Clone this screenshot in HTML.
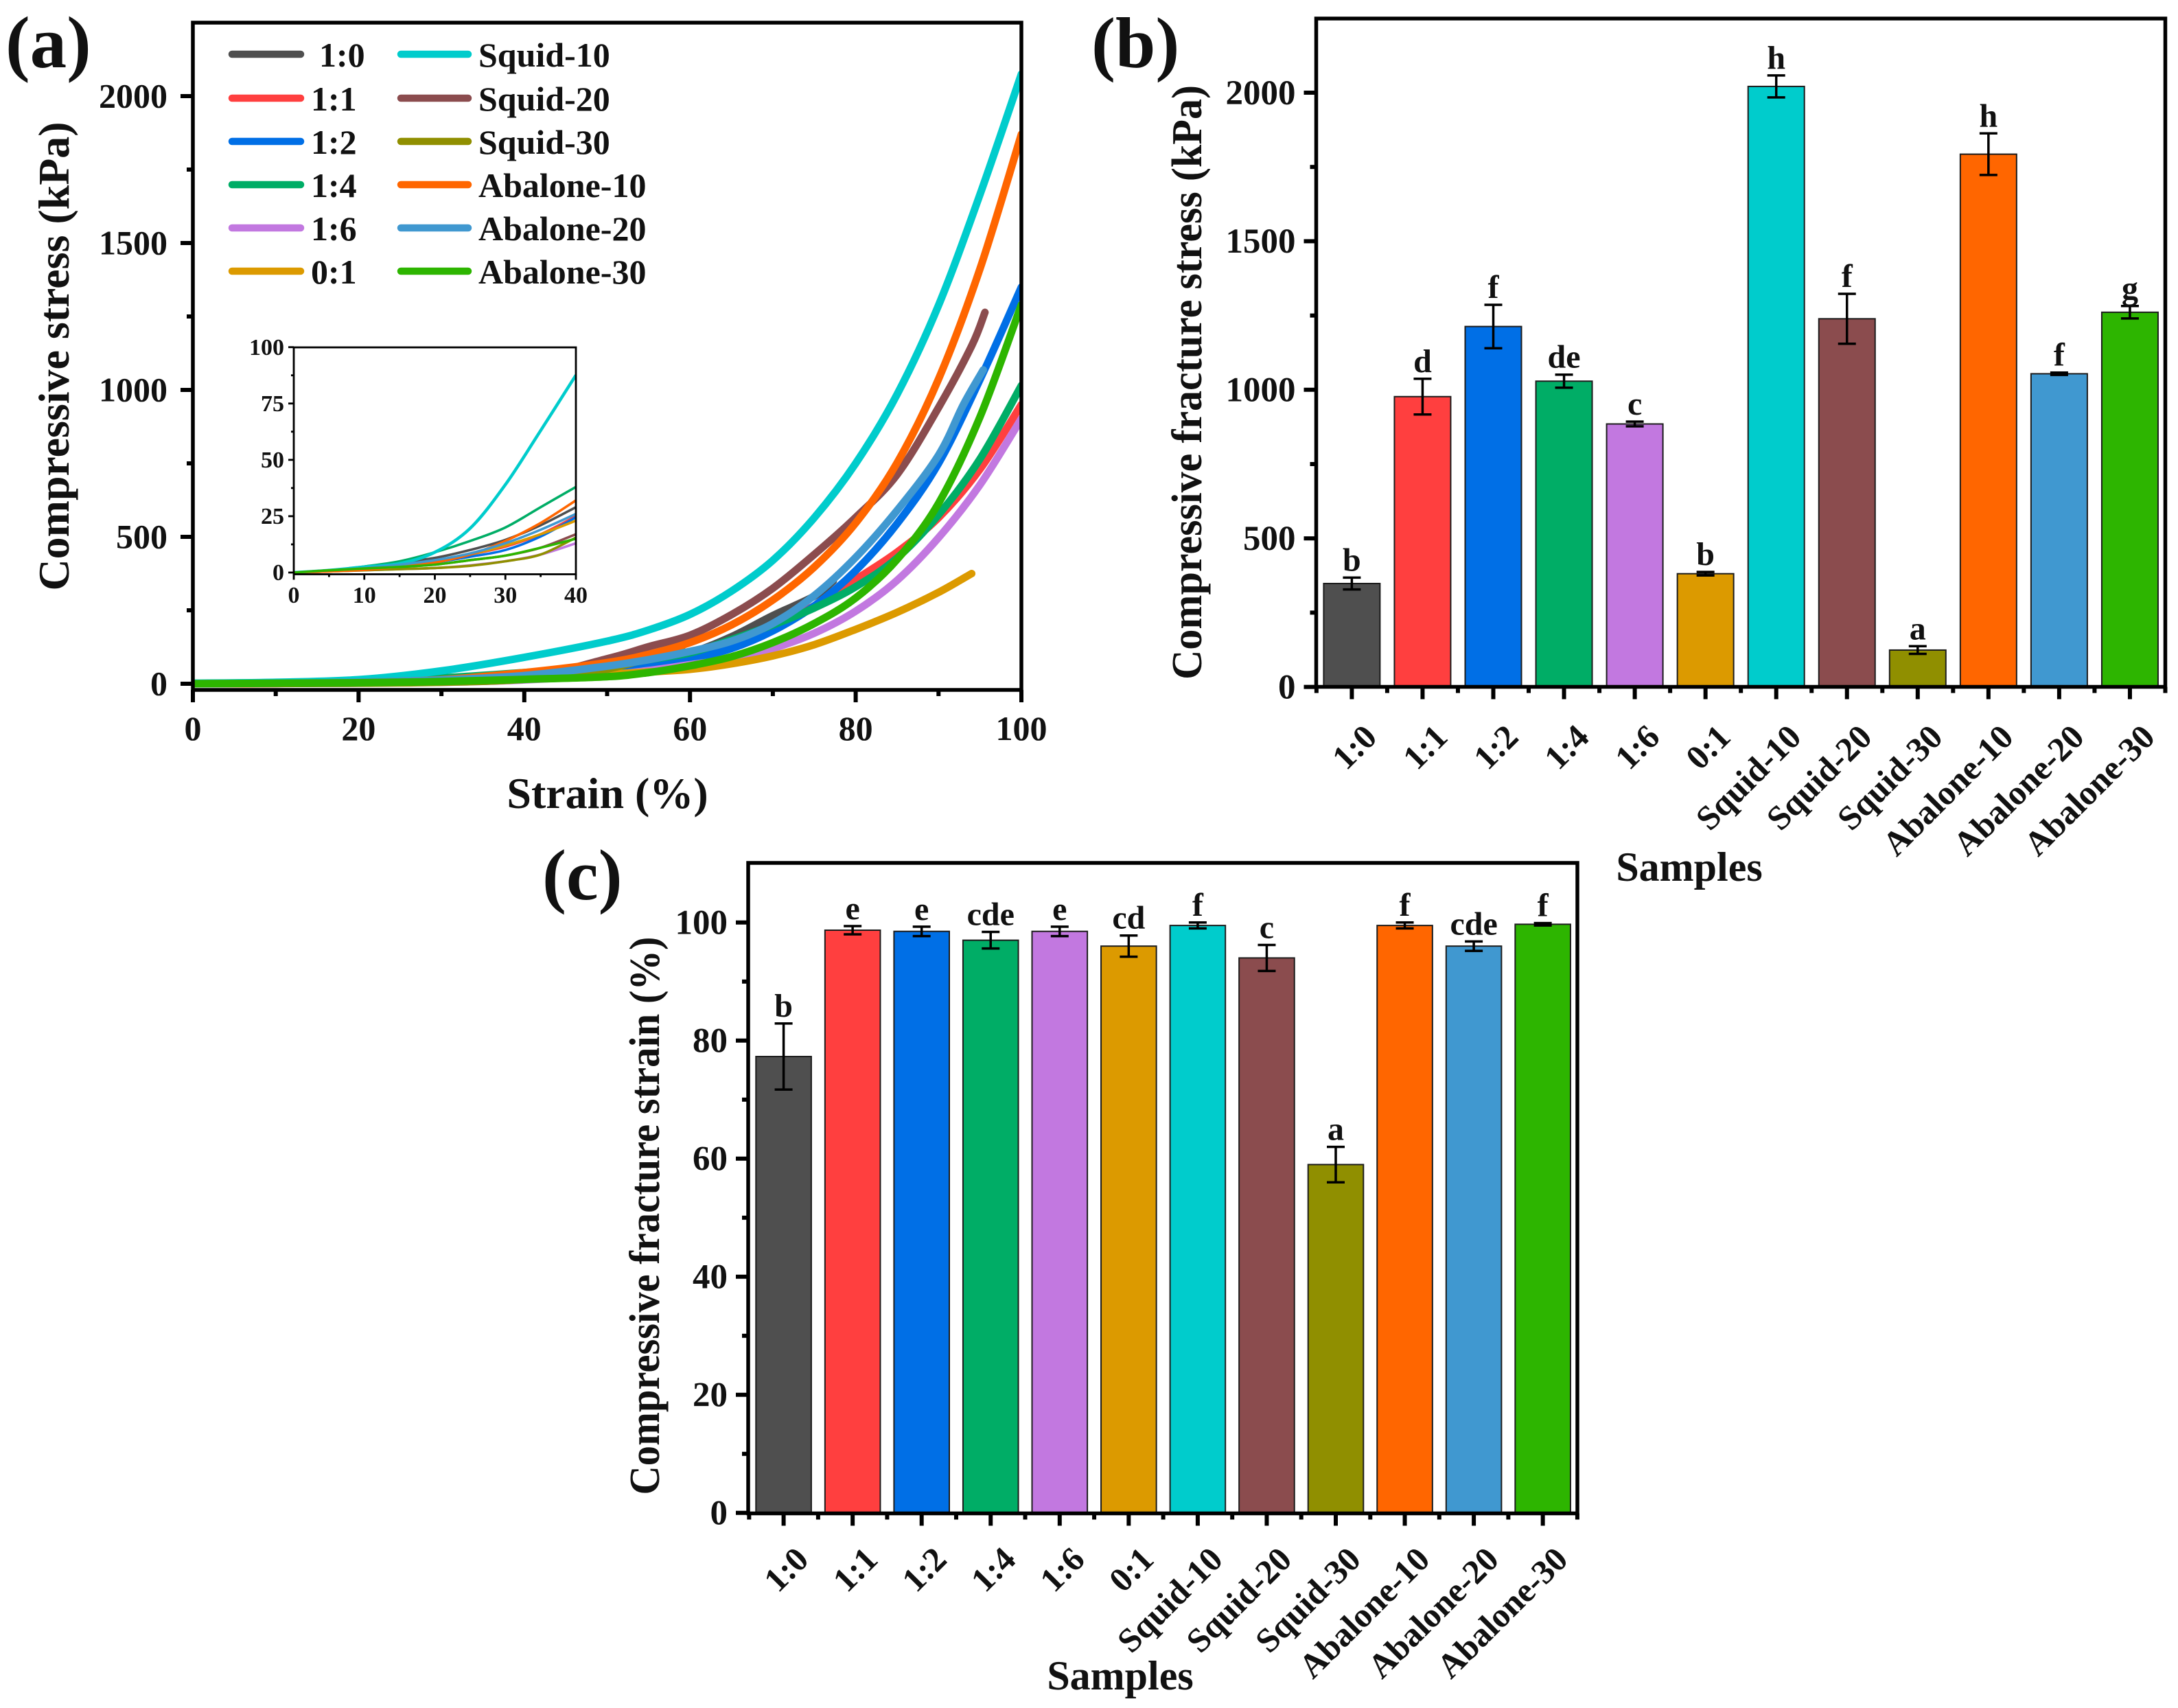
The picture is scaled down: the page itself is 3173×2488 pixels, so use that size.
<!DOCTYPE html>
<html lang="en">
<head>
<meta charset="utf-8">
<title>Compressive properties of samples</title>
<style>
html,body{margin:0;padding:0;background:#fff;}
svg{display:block;}
text{font-family:"Liberation Serif","DejaVu Serif",serif;font-weight:bold;fill:#111;}
</style>
</head>
<body>
<svg id="fig" xmlns="http://www.w3.org/2000/svg" width="3173" height="2488" viewBox="0 0 3173 2488">
  <rect width="3173" height="2488" fill="#fff"/>
  <defs>
    <clipPath id="clip-a"><rect x="281" y="33" width="1207" height="972"/></clipPath>
    <clipPath id="clip-inset"><rect x="428" y="506" width="411" height="331"/></clipPath>
  </defs>
  <g id="panel-a"></g>
  <g id="legend-a" font-size="50">
    <g><line x1="338" x2="438" y1="79" y2="79" stroke="#4f4f4f" stroke-width="10.5" stroke-linecap="round"/><text x="465" y="97">1:0</text></g>
    <g><line x1="338" x2="438" y1="143" y2="143" stroke="#ff3f3f" stroke-width="10.5" stroke-linecap="round"/><text x="453" y="161">1:1</text></g>
    <g><line x1="338" x2="438" y1="206" y2="206" stroke="#006fe6" stroke-width="10.5" stroke-linecap="round"/><text x="453" y="224">1:2</text></g>
    <g><line x1="338" x2="438" y1="269" y2="269" stroke="#00ad66" stroke-width="10.5" stroke-linecap="round"/><text x="453" y="287">1:4</text></g>
    <g><line x1="338" x2="438" y1="332" y2="332" stroke="#c278e0" stroke-width="10.5" stroke-linecap="round"/><text x="453" y="350">1:6</text></g>
    <g><line x1="338" x2="438" y1="395" y2="395" stroke="#dc9a00" stroke-width="10.5" stroke-linecap="round"/><text x="453" y="413">0:1</text></g>
    <g><line x1="584" x2="682" y1="79" y2="79" stroke="#00cccc" stroke-width="10.5" stroke-linecap="round"/><text x="697" y="97">Squid-10</text></g>
    <g><line x1="584" x2="682" y1="143" y2="143" stroke="#8b4c4e" stroke-width="10.5" stroke-linecap="round"/><text x="697" y="161">Squid-20</text></g>
    <g><line x1="584" x2="682" y1="206" y2="206" stroke="#908f00" stroke-width="10.5" stroke-linecap="round"/><text x="697" y="224">Squid-30</text></g>
    <g><line x1="584" x2="682" y1="269" y2="269" stroke="#ff6600" stroke-width="10.5" stroke-linecap="round"/><text x="697" y="287">Abalone-10</text></g>
    <g><line x1="584" x2="682" y1="332" y2="332" stroke="#4098d0" stroke-width="10.5" stroke-linecap="round"/><text x="697" y="350">Abalone-20</text></g>
    <g><line x1="584" x2="682" y1="395" y2="395" stroke="#2db500" stroke-width="10.5" stroke-linecap="round"/><text x="697" y="413">Abalone-30</text></g>
  </g>
  <g id="panel-b"></g>
  <g id="panel-c"></g>

  <text x="8" y="98" font-size="107">(a)</text>
  <text x="1590" y="98" font-size="105">(b)</text>
  <text x="790" y="1310" font-size="105">(c)</text>

  <text x="885" y="1177" font-size="64" text-anchor="middle">Strain (%)</text>
  <text transform="translate(100,519) rotate(-90)" font-size="64" text-anchor="middle" textLength="683" lengthAdjust="spacingAndGlyphs">Compressive stress (kPa)</text>
  <text x="2461" y="1283" font-size="60" text-anchor="middle">Samples</text>
  <text transform="translate(1750,557) rotate(-90)" font-size="62" text-anchor="middle" textLength="866" lengthAdjust="spacingAndGlyphs">Compressive fracture stress (kPa)</text>
  <text x="1632" y="2461" font-size="60" text-anchor="middle">Samples</text>
  <text transform="translate(960,1771) rotate(-90)" font-size="62" text-anchor="middle" textLength="813" lengthAdjust="spacingAndGlyphs">Compressive fracture strain (%)</text>
</svg>
<script>
// ---- Shared categories ----
const sampleLabels = ['1:0','1:1','1:2','1:4','1:6','0:1','Squid-10','Squid-20','Squid-30','Abalone-10','Abalone-20','Abalone-30'];
const sampleColors = ['#4f4f4f','#ff3f3f','#006fe6','#00ad66','#c278e0','#dc9a00','#00cccc','#8b4c4e','#908f00','#ff6600','#4098d0','#2db500'];

// ---- Panel (a) stress-strain curves ----
const strainFull = [0,10,20,30,40,50,55,60,65,70,75,80,85,90,95,100];
const strain10 = [0,10,20,30,40,50,55,60,65,70,75,77.3];
const strain01 = [0,10,20,30,40,50,55,60,65,70,75,80,85,90,94];
const strainS20 = [0,10,20,30,40,50,55,60,65,70,75,80,85,90,94,95.6];
const strainS30 = [0,10,20,30,40,50,59];
const strainA20 = [0,10,20,30,40,50,55,60,65,70,75,80,85,90,93,95.4];
const stress10 = [0,2.5,6.5,14.5,29,60,80,105,160,232,298,350];
const stress11 = [0,2,5,11.5,25,50,75,95,140,195,265,355,448,565,730,950];
const stress12 = [0,2,4.5,10,24.5,42,60,85,120,180,265,385,545,750,1035,1350];
const stress14 = [0,2.7,9,20,38,60,82,105,150,200,258,330,428,575,765,1015];
const stress16 = [0,1,2,5,13,30,45,65,85,120,172,247,352,497,677,902];
const stress01 = [0,1.2,4.5,12,23,33,40,49,68,95,133,185,243,311,375];
const stressS10 = [2,5,14,44,90,145,183,236,315,420,565,750,985,1288,1665,2075];
const stressS20 = [0,1,3.5,7.5,18,85,126,165,235,325,440,566,712,940,1150,1264];
const stressS30 = [0,1,2,5,15.5,50,124];
const stressA10 = [0,1,5,14,38,72,100,140,200,285,397,547,752,1037,1412,1870];
const stressA20 = [0,2,5.5,13,28,60,82,110,145,205,300,430,590,778,950,1068];
const stressA30 = [0,1.8,3.5,7.5,15,24,38,61,92,140,205,292,423,614,908,1290];

const curveStrains = [strain10,strainFull,strainFull,strainFull,strainFull,strain01,strainFull,strainS20,strainS30,strainFull,strainA20,strainFull];
const curveStresses = [stress10,stress11,stress12,stress14,stress16,stress01,stressS10,stressS20,stressS30,stressA10,stressA20,stressA30];

const xTicksA = [0,20,40,60,80,100];
const xMinorA = [10,30,50,70,90];
const yTicksA = [0,500,1000,1500,2000];
const yMinorA = [250,750,1250,1750];

// ---- Panel (a) inset ----
const insetStrain = [0,5,10,15,20,25,30,35,40];
const inset10 = [0,1,2.5,4.5,6.5,10,14.5,21,29];
const inset11 = [0,1,2,3,5,8,11.5,17,25];
const inset12 = [0,1,2,3,4.5,7,10,16,24.5];
const inset14 = [0,1,2.7,5,9,14,20,29,38];
const inset16 = [0,0.5,1,1.5,2,3.2,5,8,13];
const inset01 = [0,0.5,1.2,2.5,4.5,8,12,17,23];
const insetS10 = [0,1,2.5,4,9,19.6,39,63,87.6];
const insetS20 = [0,0.8,1.5,2.5,3.5,5.5,7.5,11,17];
const insetS30 = [0,0.5,1,1.5,2,3,5,8,15.5];
const insetA10 = [0,0.5,1.2,2.5,4.5,8,14,22,32];
const insetA20 = [0,1,2,3.5,5.5,8.5,13,19,26];
const insetA30 = [0,1,1.8,2.5,3.5,5.5,7.5,11,15];
const insetSeries = [inset10,inset11,inset12,inset14,inset16,inset01,insetS10,insetS20,insetS30,insetA10,insetA20,insetA30];
const insetXTicks = [0,10,20,30,40];
const insetXMinor = [5,15,25,35];
const insetYTicks = [0,25,50,75,100];
const insetYMinor = [12.5,37.5,62.5,87.5];

// ---- Panel (b) fracture stress ----
const stressValues = [348,977,1213,1029,885,381,2021,1239,124,1793,1054,1261];
const stressErrors = [20,60,73,22,8,6,37,84,13,70,4,21];
const stressLetters = ['b','d','f','de','c','b','h','f','a','h','f','g'];
const yTicksB = [0,500,1000,1500,2000];
const yMinorB = [250,750,1250,1750];

// ---- Panel (c) fracture strain ----
const strainValues = [77.3,98.7,98.5,97,98.5,96,99.5,94,59,99.5,96,99.7];
const strainErrors = [5.6,0.7,0.8,1.4,0.8,1.8,0.5,2.2,3,0.5,0.8,0.2];
const strainLetters = ['b','e','e','cde','e','cd','f','c','a','f','cde','f'];
const yTicksC = [0,20,40,60,80,100];
const yMinorC = [10,30,50,70,90];

const NS = 'http://www.w3.org/2000/svg';
function make(parent, tag, attrs, txt) {
  const el = document.createElementNS(NS, tag);
  for (const k in attrs) el.setAttribute(k, attrs[k]);
  if (txt !== undefined) el.textContent = txt;
  parent.appendChild(el);
  return el;
}
function smoothPath(pts) {
  let d = 'M' + pts[0][0].toFixed(2) + ' ' + pts[0][1].toFixed(2);
  for (let i = 0; i < pts.length - 1; i++) {
    const p0 = pts[Math.max(0, i - 1)], p1 = pts[i], p2 = pts[i + 1], p3 = pts[Math.min(pts.length - 1, i + 2)];
    const c1x = p1[0] + (p2[0] - p0[0]) / 6, c1y = p1[1] + (p2[1] - p0[1]) / 6;
    const c2x = p2[0] - (p3[0] - p1[0]) / 6, c2y = p2[1] - (p3[1] - p1[1]) / 6;
    d += 'C' + c1x.toFixed(2) + ' ' + c1y.toFixed(2) + ' ' + c2x.toFixed(2) + ' ' + c2y.toFixed(2) + ' ' + p2[0].toFixed(2) + ' ' + p2[1].toFixed(2);
  }
  return d;
}
function drawFrame(g, box, lw) {
  const f = make(g, 'rect', {x: box.l, y: box.t, width: box.r - box.l, height: box.b - box.t, fill: 'none', stroke: '#000', 'stroke-width': lw});
  
  
}
function drawYAxis(g, box, yScale, ticks, minor, fs, majorLen, minorLen, lw, labelGap) {
  ticks.forEach(function (v) {
    const t = make(g, 'line', {x1: box.l, x2: box.l - majorLen, y1: yScale(v), y2: yScale(v), stroke: '#000', 'stroke-width': lw});
    
    
    const l = make(g, 'text', {x: box.l - labelGap, y: yScale(v) + fs * 0.33, 'font-size': fs, 'text-anchor': 'end'}, String(v));
    
    
  });
  minor.forEach(function (v) {
    const t = make(g, 'line', {x1: box.l, x2: box.l - minorLen, y1: yScale(v), y2: yScale(v), stroke: '#000', 'stroke-width': lw});
    
    
  });
}
function drawXAxis(g, box, xScale, ticks, minor, fs, majorLen, minorLen, lw, labelY) {
  ticks.forEach(function (v) {
    const t = make(g, 'line', {x1: xScale(v), x2: xScale(v), y1: box.b, y2: box.b + majorLen, stroke: '#000', 'stroke-width': lw});
    
    
    const l = make(g, 'text', {x: xScale(v), y: labelY, 'font-size': fs, 'text-anchor': 'middle'}, String(v));
    
    
  });
  minor.forEach(function (v) {
    const t = make(g, 'line', {x1: xScale(v), x2: xScale(v), y1: box.b, y2: box.b + minorLen, stroke: '#000', 'stroke-width': lw});
    
    
  });
}

// Panel (a)
(function () {
  const g = document.getElementById('panel-a');
  const box = {l: 281, r: 1488, t: 33, b: 1005};
  const x = function (v) { return 281 + v * 12.07; };
  const y = function (v) { return 996 - v * 0.428; };
  const curves = make(g, 'g', {'clip-path': 'url(#clip-a)'});
  
  
  sampleLabels.forEach(function (name, i) {
    const pts = curveStresses[i].map(function (s, j) { return [x(curveStrains[i][j]), y(s)]; });
    const p = make(curves, 'path', {d: smoothPath(pts), fill: 'none', stroke: sampleColors[i], 'stroke-width': 11, 'stroke-linecap': 'round', 'stroke-linejoin': 'round'});
    
    
  });
  drawFrame(g, box, 5.5);
  drawYAxis(g, box, y, yTicksA, yMinorA, 50, 18, 9, 6, 37);
  drawXAxis(g, box, x, xTicksA, xMinorA, 50, 18, 9, 6, 1078);

  // Inset
  const inset = make(g, 'g', {});
  
  
  const ibox = {l: 428, r: 839, t: 506, b: 836.5};
  const ix = function (v) { return 428 + v * 10.275; };
  const iy = function (v) { return 834 - v * 3.283; };
  const icurves = make(inset, 'g', {'clip-path': 'url(#clip-inset)'});
  
  
  sampleLabels.forEach(function (name, i) {
    const pts = insetSeries[i].map(function (s, j) { return [ix(insetStrain[j]), iy(s)]; });
    const p = make(icurves, 'path', {d: smoothPath(pts), fill: 'none', stroke: sampleColors[i], 'stroke-width': i === 6 ? 4.5 : 3.6, 'stroke-linejoin': 'round'});
    
    
  });
  drawFrame(inset, ibox, 2.8);
  drawYAxis(inset, ibox, iy, insetYTicks, insetYMinor, 34, 8, 4, 2.8, 14);
  drawXAxis(inset, ibox, ix, insetXTicks, insetXMinor, 34, 8, 4, 2.8, 878);
})();

function drawBars(g, box, y, cx0, step, barW, values, errors, letters, ticks, minor, labelOffsetX, labelOffsetY) {
  const x = function (i) { return cx0 + i * step; };
  values.forEach(function (v, i) {
    const r = make(g, 'rect', {x: x(i) - barW / 2, y: y(v), width: barW, height: y(0) - y(v), fill: sampleColors[i], stroke: '#1c1c1c', 'stroke-width': 2});
    
    
  });
  values.forEach(function (v, i) {
    const hi = y(v + errors[i]), lo = y(v - errors[i]), cx = x(i);
    const e = make(g, 'path', {d: 'M' + cx + ' ' + hi + 'V' + lo + 'M' + (cx - 13) + ' ' + hi + 'H' + (cx + 13) + 'M' + (cx - 13) + ' ' + lo + 'H' + (cx + 13), fill: 'none', stroke: '#000', 'stroke-width': 3.5});
    
    
    const l = make(g, 'text', {x: cx, y: hi - 10, 'font-size': 48, 'text-anchor': 'middle'}, letters[i]);
    
    
  });
  drawFrame(g, box, 5.5);
  drawYAxis(g, box, y, ticks, minor, 51, 18, 9, 6, 30);
  const m0 = make(g, 'line', {x1: cx0 - step / 2, x2: cx0 - step / 2, y1: box.b, y2: box.b + 9, stroke: '#000', 'stroke-width': 6});
  
  
  sampleLabels.forEach(function (name, i) {
    const cx = x(i);
    const t = make(g, 'line', {x1: cx, x2: cx, y1: box.b, y2: box.b + 18, stroke: '#000', 'stroke-width': 6});
    
    
    const m = make(g, 'line', {x1: cx + step / 2, x2: cx + step / 2, y1: box.b, y2: box.b + 9, stroke: '#000', 'stroke-width': 6});
    
    
    const px = cx + labelOffsetX, py = box.b + labelOffsetY;
    const l = make(g, 'text', {transform: 'translate(' + px + ',' + py + ') rotate(-45)', 'font-size': 50, 'text-anchor': 'end'}, name);
    
    
  });
}

// Panel (b)
drawBars(document.getElementById('panel-b'), {l: 1917.5, r: 3154.5, t: 27, b: 1000.5},
  function (v) { return 1000.6 - v * 0.4328; }, 1969.4, 103.05, 82,
  stressValues, stressErrors, stressLetters, yTicksB, yMinorB, 39, 76);

// Panel (c)
drawBars(document.getElementById('panel-c'), {l: 1090, r: 2298, t: 1257, b: 2204.5},
  function (v) { return 2203.8 - v * 8.6; }, 1141.6, 100.55, 80.6,
  strainValues, strainErrors, strainLetters, yTicksC, yMinorC, 39, 70);
</script>
</body>
</html>
